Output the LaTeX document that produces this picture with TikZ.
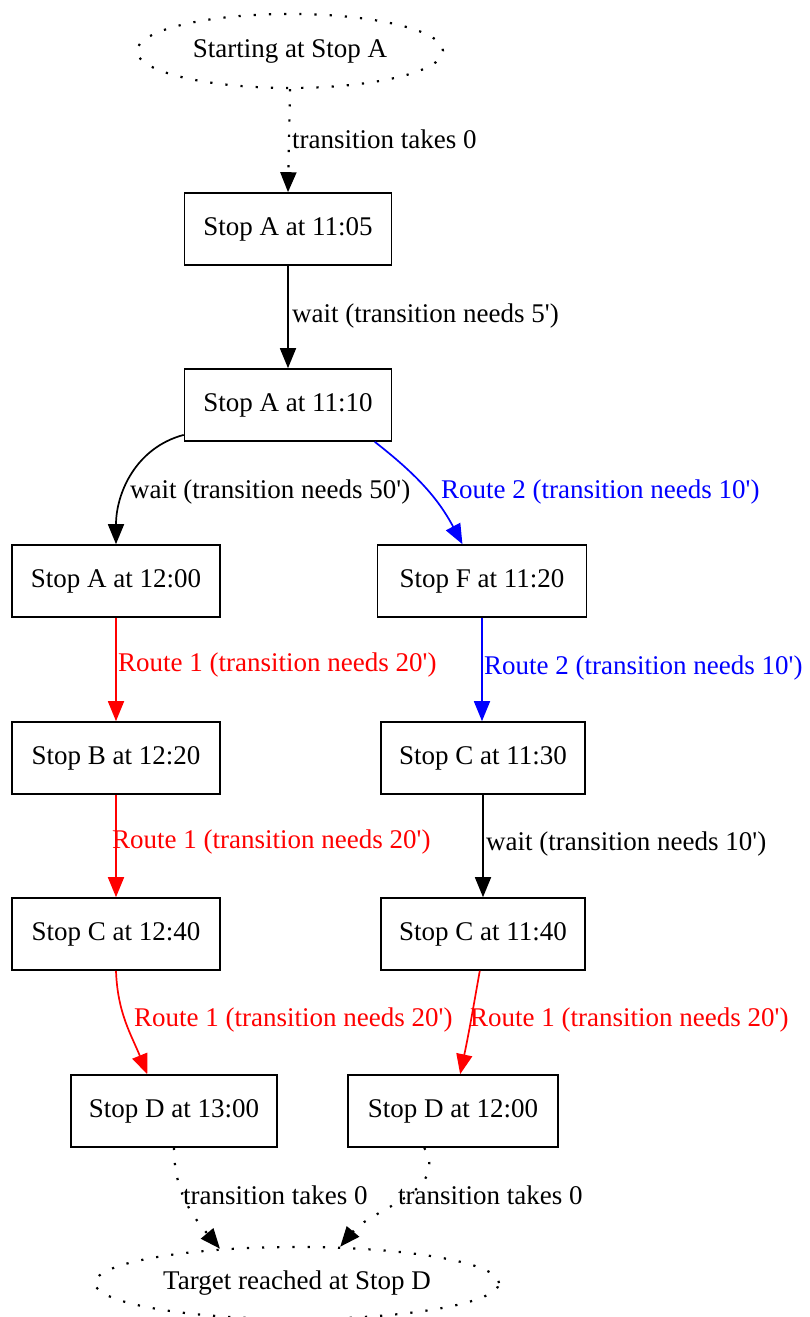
\documentclass[tikz,border=0pt]{standalone}
\usepackage{fontspec}
\setmainfont{Liberation Serif}
\usetikzlibrary{arrows.meta,shapes.geometric}
\definecolor{rred}{RGB}{255,0,0}
\definecolor{bblue}{RGB}{0,0,255}
\newcommand{\pr}{\textquotesingle}
\begin{document}
\begin{tikzpicture}[x=1pt,y=1pt,
  every node/.style={font=\fontsize{27}{32}\selectfont},
  box/.style={draw,line width=1.6pt,rectangle,minimum height=72pt,inner sep=0pt},
  oval/.style={ellipse,draw,line width=2.2pt,dash pattern=on 2.2pt off 13pt,inner sep=0pt},
  conn/.style={line width=1.7pt,-{Triangle[length=20pt,width=16pt]}},
  dotconn/.style={line width=2.2pt,dash pattern=on 2.2pt off 13pt,-{Triangle[length=20pt,width=16pt]}},
  lbl/.style={anchor=west,inner sep=0pt}]
\useasboundingbox (0,0) rectangle (810,1317);
% nodes
\node[oval,minimum width=306pt,minimum height=74pt] (start) at (290,1266) {Starting at Stop A};
\node[box,minimum width=207pt] (a1105) at (288,1088) {Stop A at 11:05};
\node[box,minimum width=207pt] (a1110) at (288,912) {Stop A at 11:10};
\node[box,minimum width=208pt] (a1200) at (116,736) {Stop A at 12:00};
\node[box,minimum width=209pt] (f1120) at (482,736) {Stop F at 11:20};
\node[box,minimum width=208pt] (b1220) at (116,559) {Stop B at 12:20};
\node[box,minimum width=204pt] (c1130) at (483,559) {Stop C at 11:30};
\node[box,minimum width=208pt] (c1240) at (116,383) {Stop C at 12:40};
\node[box,minimum width=204pt] (c1140) at (483,383) {Stop C at 11:40};
\node[box,minimum width=206pt] (d1300) at (174,206) {Stop D at 13:00};
\node[box,minimum width=210pt] (d1200) at (453,206) {Stop D at 12:00};
\node[oval,minimum width=404pt,minimum height=72pt] (target) at (297,34) {Target reached at Stop D};
% connectors
\draw[dotconn] (start.south) -- (a1105.north);
\draw[conn] (a1105.south) -- (a1110.north);
\draw[conn] (a1110.196) to[out=195,in=90] (a1200.north);
\draw[conn,bblue] (a1110.337) to[out=-38,in=118] (f1120.118);
\draw[conn,rred] (a1200.south) -- (b1220.north);
\draw[conn,bblue] (f1120.south) -- (f1120.south |- c1130.north);
\draw[conn,rred] (b1220.south) -- (c1240.north);
\draw[conn] (c1130.south) -- (c1140.north);
\draw[conn,rred] (c1240.south) to[out=-88,in=112] (d1300.126);
\draw[conn,rred] (c1140.265) to[out=-100,in=78] (d1200.79);
\draw[dotconn] (d1300.north |- d1300.south) to[out=-90,in=130] (target.156);
\draw[dotconn] (d1200.232) to[out=-60,in=50] (target.40);
% labels
\node[lbl] (l1) at (292,1178) {transition takes 0};
\node[lbl] (l2) at (292,1001) {wait (transition needs 5\pr)};
\node[lbl] (l3) at (130,825) {wait (transition needs 50\pr)};
\node[lbl,text=bblue] (l4) at (441,825) {Route 2 (transition needs 10\pr)};
\node[lbl,text=rred] (l5) at (118,652) {Route 1 (transition needs 20\pr)};
\node[lbl,text=bblue] (l6) at (484,649) {Route 2 (transition needs 10\pr)};
\node[lbl,text=rred] (l7) at (112,475) {Route 1 (transition needs 20\pr)};
\node[lbl] (l8) at (486,473) {wait (transition needs 10\pr)};
\node[lbl,text=rred] (l9) at (134,297) {Route 1 (transition needs 20\pr)};
\node[lbl,text=rred] (l10) at (470,297) {Route 1 (transition needs 20\pr)};
\node[lbl] (l11) at (183,122) {transition takes 0};
\node[lbl] (l12) at (398,122) {transition takes 0};
\end{tikzpicture}
\end{document}
